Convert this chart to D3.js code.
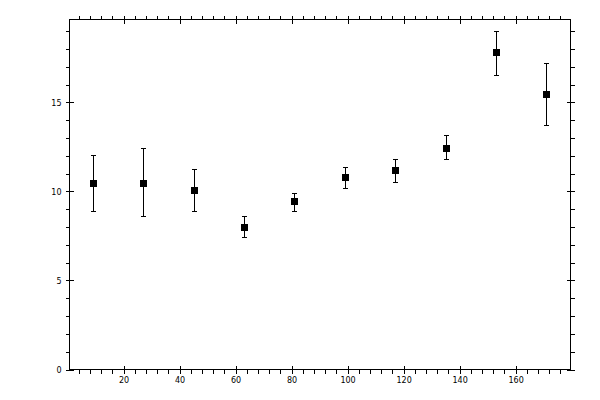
<!DOCTYPE html>
<html><head><meta charset="utf-8">
<script src="https://cdn.jsdelivr.net/npm/d3@7"></script>
<style>body{margin:0;background:#fff}svg{display:block}text{font-family:"DejaVu Sans",sans-serif;font-size:8px;fill:#000}</style>
</head><body><svg id="c" width="600" height="400"></svg>
<script>
const xs = [9, 27, 45, 63, 81, 99, 117, 135, 153, 171];
const ys = [10.5, 10.5, 10.06, 8.03, 9.44, 10.79, 11.18, 12.47, 17.81, 15.45];
const yHi = [12.06, 12.42, 11.24, 8.6, 9.94, 11.4, 11.8, 13.2, 19.04, 17.19];
const yLo = [8.93, 8.6, 8.88, 7.47, 8.93, 10.17, 10.56, 11.8, 16.57, 13.71];
const xMajor = [20, 40, 60, 80, 100, 120, 140, 160];
const xMinor = d3.range(4, 180, 4).filter(v => v % 20 !== 0);
const yMajor = [0, 5, 10, 15];
const yMinor = d3.range(1, 20, 1).filter(v => v % 5 !== 0);

const L = 69.5, R = 570.5, T = 19.5, B = 369.5;
const x = d3.scaleLinear().domain([0.7, 179.6]).range([L, R]);
const y = d3.scaleLinear().domain([0, 19.66]).range([B, T]);
const svg = d3.select("#c");
const g = svg.append("g").attr("shape-rendering", "crispEdges");

function ax(gen, tx, ty, vals, size, fmt) {
  const a = g.append("g").attr("transform", `translate(${tx},${ty})`)
    .call(gen.tickValues(vals).tickSizeInner(size).tickSizeOuter(0).tickPadding(4).tickFormat(fmt));
  a.select(".domain").remove();
  a.selectAll("line").attr("stroke", "#000");
  a.selectAll("text").attr("font-family", "DejaVu Sans").attr("font-size", 8);
  return a;
}
const none = () => "";
// bottom
ax(d3.axisBottom(x), 0, B, xMajor, 4, d3.format("d"));
ax(d3.axisTop(x), 0, B, xMajor, 4, none);
ax(d3.axisBottom(x), 0, B, xMinor, 4, none);
// top
ax(d3.axisTop(x), 0, T, xMajor, 4, none);
ax(d3.axisBottom(x), 0, T, xMajor, 4, none);
ax(d3.axisTop(x), 0, T, xMinor, 4, none);
// left
ax(d3.axisLeft(y), L, 0, yMajor, 4, d3.format("d"));
ax(d3.axisRight(y), L, 0, yMajor, 4, none);
ax(d3.axisLeft(y), L, 0, yMinor, 4, none);
// right
ax(d3.axisRight(y), R, 0, yMajor, 4, none);
ax(d3.axisLeft(y), R, 0, yMajor, 4, none);
ax(d3.axisRight(y), R, 0, yMinor, 4, none);

g.append("rect").attr("x", L).attr("y", T).attr("width", R - L).attr("height", B - T)
  .attr("fill", "none").attr("stroke", "#000").attr("stroke-width", 1);

const data = xs.map((v, i) => ({x: v, y: ys[i], hi: yHi[i], lo: yLo[i]}));
const p = g.append("g");
p.selectAll("line.v").data(data).join("line")
  .attr("x1", d => Math.round(x(d.x)) + 0.5).attr("x2", d => Math.round(x(d.x)) + 0.5)
  .attr("y1", d => y(d.hi)).attr("y2", d => y(d.lo)).attr("stroke", "#000");
p.selectAll("line.t").data(data).join("line")
  .attr("x1", d => Math.round(x(d.x)) - 2).attr("x2", d => Math.round(x(d.x)) + 3)
  .attr("y1", d => Math.round(y(d.hi)) + 0.5).attr("y2", d => Math.round(y(d.hi)) + 0.5).attr("stroke", "#000");
p.selectAll("line.b").data(data).join("line")
  .attr("x1", d => Math.round(x(d.x)) - 2).attr("x2", d => Math.round(x(d.x)) + 3)
  .attr("y1", d => Math.round(y(d.lo)) + 0.5).attr("y2", d => Math.round(y(d.lo)) + 0.5).attr("stroke", "#000");
p.selectAll("rect").data(data).join("rect")
  .attr("x", d => Math.round(x(d.x)) - 3).attr("y", d => Math.round(y(d.y)) - 3)
  .attr("width", 7).attr("height", 7).attr("fill", "#000");
</script></body></html>
